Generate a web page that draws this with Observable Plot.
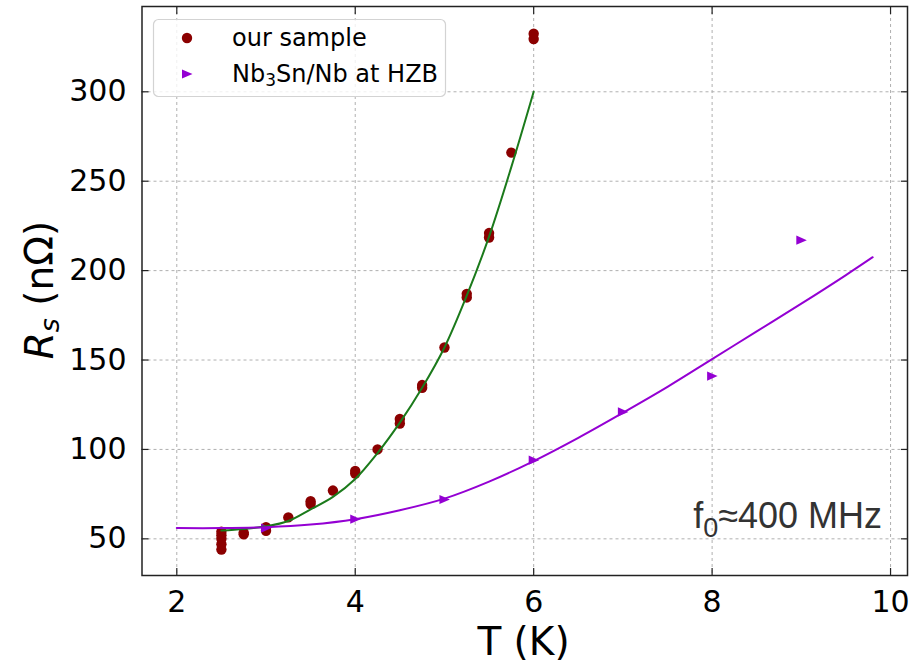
<!DOCTYPE html>
<html><head><meta charset="utf-8">
<script src="https://cdn.jsdelivr.net/npm/d3@7"></script>
<script src="https://cdn.jsdelivr.net/npm/@observablehq/plot@0.6"></script>
<style>body{margin:0;background:#fff} #chart{width:922px;height:663px}</style>
</head><body><div id="chart"></div>
<script>
// ---- data ----
const sampleT = [2.5,2.5,2.5,2.5,2.5, 2.75,2.75, 3.0,3.0, 3.25, 3.5,3.5, 3.75, 4.0,4.0, 4.25, 4.5,4.5, 4.75,4.75, 5.0, 5.25,5.25, 5.5,5.5, 5.75, 6.0,6.0];
const sampleR = [44,47,50,52,54, 52.5,53.5, 54.5,56.5, 62, 69.5,71, 77, 86.5,88, 100, 114.5,117, 134.5,136, 157, 185,187, 218.5,221, 266, 329.5,332.5];

const sampleFitT = [2.5, 2.75, 3.0, 3.25, 3.5, 3.75, 4.0, 4.25, 4.5, 4.75, 5.0, 5.25, 5.5, 5.75, 6.0];
const sampleFitR = [54.6, 55.5, 57, 60, 66.5, 73.5, 83.5, 98, 115, 134.5, 157, 186, 219, 258, 300];

const hzbT = [3, 4, 5, 6, 7, 8, 9];
const hzbR = [56, 61, 72, 94, 121, 141, 217];

const hzbFitT = [2.0, 2.5, 3.0, 3.5, 4.0, 4.5, 5.0, 5.5, 6.0, 6.5, 7.0, 7.5, 8.0, 8.5, 9.0, 9.5, 9.8];
const hzbFitR = [56, 56, 56.5, 58, 61, 66, 72.5, 82, 93.5, 106.5, 120.5, 135, 150.5, 166, 181.5, 197.5, 207.5];

const xTicks = [2, 4, 6, 8, 10];
const yTicks = [50, 100, 150, 200, 250, 300];
const legendLabels = ["our sample", "Nb3Sn/Nb at HZB"];

// ---- tables ----
const sample = sampleT.map((t, i) => ({T: t, R: sampleR[i]}));
const sampleFit = sampleFitT.map((t, i) => ({T: t, R: sampleFitR[i]}));
const hzb = hzbT.map((t, i) => ({T: t, R: hzbR[i]}));
const hzbFit = hzbFitT.map((t, i) => ({T: t, R: hzbFitR[i]}));

const triRight = {draw(ctx) {
  ctx.moveTo(5.5, 0); ctx.lineTo(-5, -4.6); ctx.lineTo(-5, 4.6); ctx.closePath();
}};

const RED = "#8b0000", GREEN = "#1b7a1b", PURPLE = "#9400d3";
const tickStyle = {stroke: "#222", strokeWidth: 1.2, tickSize: 7, tickFormat: () => "", label: null};

const plot = Plot.plot({
  width: 922, height: 663,
  marginLeft: 141.5, marginRight: 15, marginTop: 6, marginBottom: 88,
  style: {fontFamily: "DejaVu Sans", fontSize: "30px", color: "#000", background: "#fff"},
  x: {domain: [1.61, 10.19]},
  y: {domain: [29.5, 347.7]},
  marks: [
    Plot.gridX(xTicks, {stroke: "#b0b0b0", strokeOpacity: 1, strokeDasharray: "3,3", strokeWidth: 1}),
    Plot.gridY(yTicks, {stroke: "#b0b0b0", strokeOpacity: 1, strokeDasharray: "3,3", strokeWidth: 1}),
    // inward ticks on all four sides
    Plot.axisX(xTicks, {...tickStyle, anchor: "bottom", dy: -7}),
    Plot.axisX(xTicks, {...tickStyle, anchor: "top", dy: 7}),
    Plot.axisY(yTicks, {...tickStyle, anchor: "left", dx: 7}),
    Plot.axisY(yTicks, {...tickStyle, anchor: "right", dx: -7}),
    // tick labels
    Plot.axisX(xTicks, {anchor: "bottom", tickSize: 0, tickPadding: 15, label: null, fontSize: 30, fill: "#000"}),
    Plot.axisY(yTicks, {anchor: "left", tickSize: 0, tickPadding: 15.5, label: null, fontSize: 30, fill: "#000"}),
    Plot.dot(sample, {x: "T", y: "R", r: 5.2, fill: RED, stroke: "none"}),
    Plot.dot(hzb, {x: "T", y: "R", symbol: triRight, fill: PURPLE, stroke: "none"}),
    Plot.line(sampleFit, {x: "T", y: "R", stroke: GREEN, strokeWidth: 2, curve: "catmull-rom"}),
    Plot.line(hzbFit, {x: "T", y: "R", stroke: PURPLE, strokeWidth: 2, curve: "catmull-rom"}),
    Plot.frame({stroke: "#222", strokeWidth: 1.5})
  ]
});
document.getElementById("chart").appendChild(plot);

// ---- text with italics / subscripts, legend ----
const svg = d3.select(plot);
// y label
const yl = svg.append("text")
  .attr("transform", "translate(53,290) rotate(-90)")
  .attr("text-anchor", "middle")
  .attr("font-family", "DejaVu Sans").attr("font-size", 39).attr("fill", "#000");
yl.append("tspan").attr("font-style", "italic").text("R");
yl.append("tspan").attr("font-style", "italic").attr("font-size", 27).attr("dy", 6).text("s");
yl.append("tspan").attr("dy", -6).text("\u00a0(nΩ)");
// x label
svg.append("text").attr("x", 523.5).attr("y", 655).attr("text-anchor", "middle")
  .attr("font-family", "DejaVu Sans").attr("font-size", 39).attr("fill", "#000").text("T (K)");

// legend
const lg = svg.append("g").attr("font-family", "DejaVu Sans").attr("font-size", 24)
  .attr("fill", "#000").attr("text-anchor", "start");
lg.append("rect").attr("x", 153.5).attr("y", 19.5).attr("width", 292).attr("height", 77).attr("rx", 5)
  .attr("fill", "#fff").attr("fill-opacity", 0.8).attr("stroke", "#d3d3d3").attr("stroke-width", 1.2);
lg.append("circle").attr("cx", 187).attr("cy", 38).attr("r", 5.2).attr("fill", RED);
lg.append("path").attr("d", "M192.5,74L182,69.4L182,78.6Z").attr("fill", PURPLE);
lg.append("text").attr("x", 232).attr("y", 46).attr("text-anchor", "start").text(legendLabels[0]);
const l2 = lg.append("text").attr("x", 232).attr("y", 82).attr("text-anchor", "start");
l2.append("tspan").text("Nb");
l2.append("tspan").attr("font-size", 17).attr("dy", 4).text("3");
l2.append("tspan").attr("dy", -4).text("Sn/Nb at HZB");

// annotation
const an = svg.append("text").attr("x", 882).attr("y", 527.7).attr("text-anchor", "end")
  .attr("font-family", "Liberation Sans").attr("font-size", 36).attr("fill", "#333");
an.append("tspan").text("f");
an.append("tspan").attr("font-size", 27).attr("dy", 9).text("0");
an.append("tspan").attr("dy", -9).text("≈400 MHz");
</script>
</body></html>
